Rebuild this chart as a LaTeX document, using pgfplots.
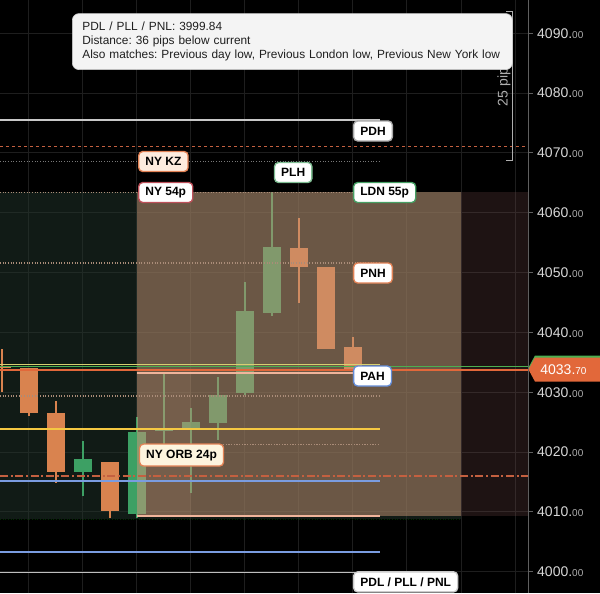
\documentclass[border=0pt]{standalone}
\usepackage{pgfplots}
\pgfplotsset{compat=1.18}
\usepackage{fontspec}
\setmainfont{Liberation Sans}
\frenchspacing

\definecolor{gridc}{RGB}{30,30,30}
\definecolor{cgreen}{RGB}{61,160,100}
\definecolor{corange}{RGB}{217,131,79}
\definecolor{ldnfill}{RGB}{34,54,44}
\definecolor{nyfill}{RGB}{198,148,116}
\definecolor{redfill}{RGB}{120,76,76}
\definecolor{orbfill}{RGB}{235,185,155}
\definecolor{pdhc}{RGB}{200,200,200}
\definecolor{dashor}{RGB}{196,96,64}
\definecolor{dotc}{RGB}{120,120,120}
\definecolor{dotb}{RGB}{170,140,120}
\definecolor{yelg}{RGB}{216,208,112}
\definecolor{yel}{RGB}{245,200,66}
\definecolor{grnline}{RGB}{76,175,80}
\definecolor{curor}{RGB}{226,104,58}
\definecolor{salmon}{RGB}{240,180,155}
\definecolor{bluel}{RGB}{122,156,224}
\definecolor{pdlc}{RGB}{190,190,190}
\definecolor{ticktext}{RGB}{215,215,215}
\definecolor{tickdim}{RGB}{175,175,175}
\definecolor{axisgray}{RGB}{95,95,95}
\definecolor{tipbg}{RGB}{244,244,244}
\definecolor{tipbd}{RGB}{205,205,205}
\definecolor{bdgray}{RGB}{170,170,170}
\definecolor{bdor}{RGB}{226,130,85}
\definecolor{bdred}{RGB}{190,80,90}
\definecolor{bdgreen}{RGB}{70,160,100}
\definecolor{bdblue}{RGB}{100,140,215}
\definecolor{kzfill}{RGB}{253,236,222}
\definecolor{orbl}{RGB}{253,244,222}

\newcommand{\tl}[1]{#1.{\color{tickdim}\fontsize{7.5}{8}\selectfont 00}}

% k, open, high, low, close, colour
\newcommand{\candle}[6]{%
  \pgfmathsetmacro\xl{#1-0.333}\pgfmathsetmacro\xr{#1+0.333}%
  \edef\tmp{%
    \noexpand\addplot[draw=#6, line width=0.8pt, forget plot] coordinates {(#1,#4) (#1,#3)};%
    \noexpand\addplot[fill=#6, draw=none, forget plot] coordinates {(\xl,#2) (\xr,#2) (\xr,#5) (\xl,#5)};%
  }\tmp}

\tikzset{lbl/.style={rounded corners=3pt, line width=1pt, minimum height=15pt,
  inner xsep=5pt, inner ysep=0pt, anchor=west, text=black,
  font=\bfseries\fontsize{9}{10}\selectfont}}

\begin{document}
\begin{tikzpicture}
\fill[black] (0,0) rectangle (450pt,444.75pt);
\useasboundingbox (0,0) rectangle (450pt,444.75pt);
\begin{axis}[
  at={(0,0)}, anchor=south west,
  scale only axis, width=396.375pt, height=444.75pt,
  xmin=-0.074, xmax=19.5, ymin=3996.44, ymax=4095.57,
  axis background/.style={fill=black},
  axis line style={draw=none},
  xtick={1,3,...,19}, xticklabels={}, xtick style={draw=none},
  ytick={4000,4010,...,4090},
  yticklabels={\tl{4000},\tl{4010},\tl{4020},\tl{4030},\tl{4040},\tl{4050},\tl{4060},\tl{4070},\tl{4080},\tl{4090}},
  ytick pos=right, yticklabel pos=right,
  tick align=outside, major tick length=3pt,
  ytick style={color=axisgray, line width=0.75pt},
  yticklabel style={font=\fontsize{10.5}{12}\selectfont, text=ticktext},
  grid=major, major grid style={color=gridc, line width=0.75pt},
  clip mode=individual,
]
% session regions behind candles
\addplot[fill=ldnfill, fill opacity=0.5, draw=none, forget plot] coordinates {(-0.074,4008.8) (17,4008.8) (17,4063.42) (-0.074,4063.42)};
\addplot[fill=redfill, fill opacity=0.25, draw=none, forget plot] coordinates {(17,4009.3) (19.5,4009.3) (19.5,4063.42) (17,4063.42)};

% candles: k, open, high, low, close
\candle{0}{4034.3}{4037.3}{4030.0}{4034.0}{corange}
\candle{1}{4034.0}{4034.0}{4026.1}{4026.5}{corange}
\candle{2}{4026.5}{4028.5}{4014.9}{4016.6}{corange}
\candle{3}{4016.6}{4021.8}{4012.6}{4018.8}{cgreen}
\candle{4}{4018.3}{4018.4}{4008.9}{4010.1}{corange}
\candle{5}{4009.7}{4025.8}{4009.0}{4023.4}{cgreen}
\candle{6}{4023.5}{4033.1}{4021.4}{4023.8}{cgreen}
\candle{7}{4023.9}{4027.4}{4013.2}{4025.1}{cgreen}
\candle{8}{4024.9}{4032.5}{4022.1}{4029.6}{cgreen}
\candle{9}{4029.8}{4048.5}{4029.5}{4043.5}{cgreen}
\candle{10}{4043.3}{4063.4}{4042.8}{4054.2}{cgreen}
\candle{11}{4054.1}{4059.1}{4044.9}{4050.9}{corange}
\candle{12}{4051.0}{4051.0}{4037.3}{4037.3}{corange}
\candle{13}{4037.5}{4039.3}{4033.7}{4033.7}{corange}

% NY kill zone overlay and ORB strip
\addplot[fill=nyfill, fill opacity=0.5, draw=none, forget plot] coordinates {(5,4009.3) (17,4009.3) (17,4063.42) (5,4063.42)};
\addplot[fill=orbfill, fill opacity=0.08, draw=none, forget plot] coordinates {(5,4009.3) (7,4009.3) (7,4033.26) (5,4033.26)};

% levels
\addplot[pdhc, line width=1.2pt] coordinates {(-0.074,4075.51) (14,4075.51)};
\addplot[dashor, line width=0.9pt, dash pattern=on 2.5pt off 2pt] coordinates {(-0.074,4071.04) (19.5,4071.04)};
\addplot[dotc, line width=0.8pt, dash pattern=on 0.8pt off 1.2pt] coordinates {(-0.074,4068.53) (14,4068.53)};
\addplot[dotb, line width=0.8pt, dash pattern=on 0.8pt off 1.2pt] coordinates {(-0.074,4063.42) (14,4063.42)};
\addplot[dotb, line width=0.8pt, dash pattern=on 0.8pt off 1.2pt] coordinates {(-0.074,4051.6) (14,4051.6)};
\addplot[yelg, line width=1pt] coordinates {(-0.074,4034.69) (14,4034.69)};
\addplot[grnline, line width=1pt] coordinates {(-0.074,4034.35) (19.5,4034.35)};
\addplot[curor, line width=1pt] coordinates {(-0.074,4033.7) (19.5,4033.7)};
\addplot[salmon, line width=1.4pt] coordinates {(5,4033.26) (14,4033.26)};
\addplot[dotb, line width=0.8pt, dash pattern=on 0.8pt off 1.2pt] coordinates {(-0.074,4029.37) (14,4029.37)};
\addplot[yel, line width=1.5pt] coordinates {(-0.074,4023.85) (14,4023.85)};
\addplot[dotb, line width=0.8pt, dash pattern=on 0.8pt off 1.2pt] coordinates {(8.19,4021.34) (14,4021.34)};
\addplot[dashor, line width=1pt, dash pattern=on 6pt off 2pt on 1.5pt off 2pt] coordinates {(-0.074,4015.99) (19.5,4015.99)};
\addplot[bluel, line width=1.3pt] coordinates {(-0.074,4015.15) (14,4015.15)};
\addplot[salmon, line width=1.6pt] coordinates {(5,4009.3) (14,4009.3)};
\addplot[black!60!green!40!black, line width=0.8pt, dash pattern=on 0.8pt off 1.2pt] coordinates {(-0.074,4008.8) (17,4008.8)};
\addplot[bluel, line width=1.3pt] coordinates {(-0.074,4003.3) (14,4003.3)};
\addplot[pdlc, line width=1.2pt] coordinates {(-0.074,3999.84) (14,3999.84)};

% right axis line
\draw[axisgray, line width=0.75pt] (rel axis cs:1,0) -- (rel axis cs:1,1);

% current price tag
\fill[grnline] (axis cs:19.5,4034.13) -- (axis cs:19.74,4036.14) -- (axis cs:22.2,4036.14) -- (axis cs:22.2,4032.12) -- (axis cs:19.74,4032.12) -- cycle;
\fill[curor] (axis cs:19.5,4033.80) -- (axis cs:19.74,4035.80) -- (axis cs:22.2,4035.80) -- (axis cs:22.2,4031.79) -- (axis cs:19.74,4031.79) -- cycle;
\node[anchor=west, inner sep=0pt, text=white, font=\fontsize{10.5}{12}\selectfont] at (axis cs:19.93,4033.8) {4033.{\fontsize{7.5}{8}\selectfont 70}};

% pips bracket
\draw[tickdim, line width=0.75pt] (axis cs:18.67,4093.73) -- (axis cs:18.89,4093.73) -- (axis cs:18.89,4068.82) -- (axis cs:18.67,4068.82);
\node[rotate=90, text=tickdim, font=\fontsize{10.5}{12}\selectfont, inner sep=0pt] at (axis cs:18.59,4081.6) {25 pips};

% level labels
\node[lbl, draw=bdgray, fill=white] at (axis cs:13.0,4073.67) {PDH};
\node[lbl, draw=bdor, fill=kzfill] at (axis cs:5.04,4068.57) {NY KZ};
\node[lbl, draw=bdred, fill=white] at (axis cs:5.04,4063.39) {NY 54p};
\node[lbl, draw=bdgreen!70!white, fill=white] at (axis cs:10.07,4066.73) {PLH};
\node[lbl, draw=bdgreen, fill=white] at (axis cs:13.0,4063.39) {LDN 55p};
\node[lbl, draw=bdor, fill=white] at (axis cs:13.0,4049.93) {PNH};
\node[lbl, draw=bdblue, fill=white] at (axis cs:13.0,4032.71) {PAH};
\node[lbl, draw=bdor, fill=orbl, minimum height=16.5pt] at (axis cs:5.07,4019.5) {NY ORB 24p};
\node[lbl, draw=bdgray!60!white, fill=white] at (axis cs:13.0,3998.3) {PDL / PLL / PNL};

% tooltip
\node[anchor=north west, fill=tipbg, draw=tipbd, line width=0.5pt, rounded corners=5pt,
  minimum width=330pt, minimum height=42pt, text width=320pt, inner xsep=5pt, align=left,
  text=black!88, font=\fontsize{8.9}{10.3}\selectfont] at (axis cs:2.593,4093.35)
  {\hspace*{2.5pt}PDL / PLL / PNL: 3999.84\\\hspace*{2.5pt}Distance: 36 pips below current\\\hspace*{2.5pt}Also matches: Previous day low, Previous London low, Previous New York low};
\end{axis}
\end{tikzpicture}
\end{document}
